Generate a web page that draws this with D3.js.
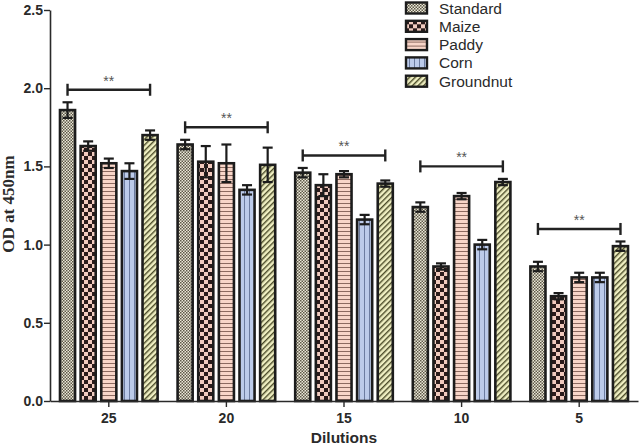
<!DOCTYPE html>
<html>
<head>
<meta charset="utf-8">
<script src="https://cdn.jsdelivr.net/npm/d3@7"></script>
<style>
  html, body { margin: 0; padding: 0; background: #fff; }
  svg { display: block; }
</style>
</head>
<body>
<svg id="chart" width="640" height="446"></svg>
<script>
// ---- data ----
const dilutions = ["25", "20", "15", "10", "5"];
const series = ["Standard", "Maize", "Paddy", "Corn", "Groundnut"];
const standardVals  = [1.86, 1.64, 1.46, 1.24, 0.86];
const maizeVals     = [1.63, 1.53, 1.38, 0.86, 0.67];
const paddyVals     = [1.52, 1.52, 1.45, 1.31, 0.79];
const cornVals      = [1.47, 1.35, 1.16, 1.00, 0.79];
const groundnutVals = [1.70, 1.51, 1.39, 1.40, 0.99];
const standardErr  = [0.05, 0.03, 0.03, 0.03, 0.03];
const maizeErr     = [0.03, 0.10, 0.07, 0.02, 0.02];
const paddyErr     = [0.03, 0.12, 0.02, 0.02, 0.03];
const cornErr      = [0.05, 0.03, 0.03, 0.03, 0.03];
const groundnutErr = [0.03, 0.11, 0.02, 0.02, 0.03];
const bracketLevels = [1.99, 1.75, 1.57, 1.50, 1.10];
const yTicks = [0, 0.5, 1.0, 1.5, 2.0, 2.5];

const valuesBySeries = [standardVals, maizeVals, paddyVals, cornVals, groundnutVals];
const errBySeries = [standardErr, maizeErr, paddyErr, cornErr, groundnutErr];
const records = [];
dilutions.forEach((d, i) => series.forEach((s, j) => {
  records.push({ dil: d, ser: s, v: valuesBySeries[j][i], e: errBySeries[j][i] });
}));

const svg = d3.select("#chart");
const defs = svg.append("defs");

// ---- patterns ----
function pat(id, w, h, bg, extra) {
  const p = defs.append("pattern").attr("id", id)
    .attr("patternUnits", "userSpaceOnUse").attr("width", w).attr("height", h);
  p.append("rect").attr("width", w).attr("height", h).attr("fill", bg);
  extra(p);
  return p;
}
pat("p-standard", 3, 3, "#ebe8d8", p => {
  p.append("rect").attr("width", 1.5).attr("height", 1.5).attr("fill", "#5e5848");
  p.append("rect").attr("x", 1.5).attr("y", 1.5).attr("width", 1.5).attr("height", 1.5).attr("fill", "#5e5848");
});
pat("p-maize", 8, 8, "#f1cbbf", p => {
  p.append("rect").attr("width", 4).attr("height", 4).attr("fill", "#2a1b1b");
  p.append("rect").attr("x", 4).attr("y", 4).attr("width", 4).attr("height", 4).attr("fill", "#2a1b1b");
});
pat("p-paddy", 4, 4, "#f8d5c8", p => {
  p.append("rect").attr("y", 3).attr("width", 4).attr("height", 1).attr("fill", "#8c6a60");
});
pat("p-corn", 5, 5, "#bccbea", p => {
  p.append("rect").attr("x", 4).attr("width", 1).attr("height", 5).attr("fill", "#6c7ca0");
});
pat("p-groundnut", 4, 4, "#efefc2", p => {
  p.append("rect").attr("width", 1.4).attr("height", 4).attr("fill", "#4a4a28");
}).attr("patternTransform", "rotate(45)");

const fills = {
  Standard: "url(#p-standard)", Maize: "url(#p-maize)", Paddy: "url(#p-paddy)",
  Corn: "url(#p-corn)", Groundnut: "url(#p-groundnut)"
};

// ---- scales ----
const x0 = d3.scaleBand().domain(dilutions).range([50, 638])
  .paddingInner(0.17).paddingOuter(0.085);
const x1 = d3.scaleBand().domain(series).range([0, x0.bandwidth()]).paddingInner(0.27);
const y = d3.scaleLinear().domain([0, 2.5]).range([401, 10]);

const axisColor = "#2a2a2a";

// ---- bars ----
const g = svg.append("g");
g.selectAll("rect.bar").data(records).join("rect")
  .attr("class", "bar")
  .attr("x", d => x0(d.dil) + x1(d.ser))
  .attr("width", x1.bandwidth())
  .attr("y", d => y(d.v))
  .attr("height", d => y(0) - y(d.v))
  .attr("fill", d => fills[d.ser])
  .attr("stroke", "#1c1c1c")
  .attr("stroke-width", 2.6);

// ---- error bars ----
const eg = svg.append("g").attr("stroke", "#1c1c1c").attr("stroke-width", 2.2);
records.forEach(d => {
  const cx = x0(d.dil) + x1(d.ser) + x1.bandwidth() / 2;
  eg.append("line").attr("x1", cx).attr("x2", cx).attr("y1", y(d.v + d.e)).attr("y2", y(d.v - d.e));
  eg.append("line").attr("x1", cx - 5).attr("x2", cx + 5).attr("y1", y(d.v + d.e)).attr("y2", y(d.v + d.e));
  eg.append("line").attr("x1", cx - 5).attr("x2", cx + 5).attr("y1", y(d.v - d.e)).attr("y2", y(d.v - d.e));
});

// ---- significance brackets ----
const bg = svg.append("g");
dilutions.forEach((d, i) => {
  const xa = x0(d) + x1(series[0]) + x1.bandwidth() / 2;
  const xb = x0(d) + x1(series[series.length - 1]) + x1.bandwidth() / 2;
  const yy = y(bracketLevels[i]);
  bg.append("line").attr("x1", xa).attr("x2", xb).attr("y1", yy).attr("y2", yy)
    .attr("stroke", "#222").attr("stroke-width", 2.4);
  [xa, xb].forEach(xx => bg.append("line").attr("x1", xx).attr("x2", xx)
    .attr("y1", yy - 6).attr("y2", yy + 6).attr("stroke", "#222").attr("stroke-width", 2.4));
  bg.append("text").attr("x", (xa + xb) / 2).attr("y", yy - 4)
    .attr("text-anchor", "middle").attr("font-family", "Liberation Sans, Arial, sans-serif")
    .attr("font-size", 14).attr("fill", "#555").text("**");
});

// ---- axes ----
const yAxis = svg.append("g").attr("transform", "translate(50,0)")
  .call(d3.axisLeft(y).tickValues(yTicks).tickFormat(d3.format(".1f")).tickSize(6).tickSizeOuter(0));
yAxis.select(".domain").attr("stroke", axisColor).attr("stroke-width", 1.6);
yAxis.selectAll(".tick line").attr("stroke", axisColor).attr("stroke-width", 1.4);
yAxis.selectAll(".tick text").attr("font-family", "Liberation Sans, Arial, sans-serif")
  .attr("font-size", 14).attr("font-weight", "bold").attr("fill", "#2a2a2a").attr("x", -7);

const xAxis = svg.append("g").attr("transform", "translate(0,401)")
  .call(d3.axisBottom(x0).tickSize(6).tickSizeOuter(0));
xAxis.select(".domain").attr("stroke", axisColor).attr("stroke-width", 1.6);
xAxis.selectAll(".tick line").attr("stroke", axisColor).attr("stroke-width", 1.4);
xAxis.selectAll(".tick text").attr("font-family", "Liberation Sans, Arial, sans-serif")
  .attr("font-size", 14).attr("font-weight", "bold").attr("fill", "#2a2a2a").attr("dy", "0.9em");

// ---- axis titles ----
svg.append("text").attr("x", 344).attr("y", 443).attr("text-anchor", "middle")
  .attr("font-family", "Liberation Sans, Arial, sans-serif").attr("font-size", 15.5)
  .attr("font-weight", "bold").attr("fill", "#2a2a2a").text("Dilutions");
svg.append("text").attr("transform", "translate(14,204) rotate(-90)").attr("text-anchor", "middle")
  .attr("font-family", "Liberation Serif, Times New Roman, serif").attr("font-size", 17)
  .attr("font-weight", "bold").attr("fill", "#2a2a2a").text("OD at 450nm");

// ---- legend ----
const leg = svg.append("g").attr("transform", "translate(405,2)");
series.forEach((s, i) => {
  const row = leg.append("g").attr("transform", `translate(0,${i * 18.3})`);
  row.append("rect").attr("x", 1).attr("y", 0.5).attr("width", 21).attr("height", 11)
    .attr("fill", fills[s]).attr("stroke", "#1c1c1c").attr("stroke-width", 2.4);
  row.append("text").attr("x", 34).attr("y", 11.5)
    .attr("font-family", "Liberation Sans, Arial, sans-serif").attr("font-size", 15.5)
    .attr("fill", "#2a2a2a").text(s);
});
</script>
</body>
</html>
